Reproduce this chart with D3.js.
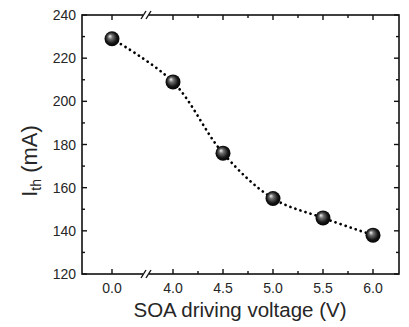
<!DOCTYPE html>
<html>
<head>
<meta charset="utf-8">
<script src="https://cdn.jsdelivr.net/npm/d3@7"></script>
<style>
body { margin: 0; background: #fff; }
text { font-family: "Liberation Sans", Arial, sans-serif; fill: #262626; }
</style>
</head>
<body>
<svg id="chart" width="409" height="327"></svg>
<script>
// data
var voltage = [0.0, 4.0, 4.5, 5.0, 5.5, 6.0];
var ith = [229, 209, 176, 155, 146, 138];
var xTicks = [0.0, 4.0, 4.5, 5.0, 5.5, 6.0];
var xMinor = [4.25, 4.75, 5.25, 5.75];
var yTicks = [120, 140, 160, 180, 200, 220, 240];
var yMinor = [130, 150, 170, 190, 210, 230];

var svg = d3.select('#chart');
var pLeft = 82, pRight = 399, pTop = 15, pBottom = 274;
var breakX = 146;

// broken x axis: piecewise linear scale with a jump at the break
var x = d3.scaleLinear()
    .domain([-0.3, 0.34, 3.73, 6.26])
    .range([pLeft, breakX, breakX, pRight]);
var y = d3.scaleLinear().domain([120, 240]).range([pBottom, pTop]);

var defs = svg.append('defs');
var grad = defs.append('radialGradient')
    .attr('id', 'ball')
    .attr('cx', '0.5').attr('cy', '0.5').attr('r', '0.55')
    .attr('fx', '0.35').attr('fy', '0.32');
grad.append('stop').attr('offset', '0%').attr('stop-color', '#f4f4f4');
grad.append('stop').attr('offset', '28%').attr('stop-color', '#707070');
grad.append('stop').attr('offset', '68%').attr('stop-color', '#151515');
grad.append('stop').attr('offset', '100%').attr('stop-color', '#000');

// frame
svg.append('rect')
    .attr('x', pLeft).attr('y', pTop)
    .attr('width', pRight - pLeft).attr('height', pBottom - pTop)
    .attr('fill', 'none').attr('stroke', '#111').attr('stroke-width', 1.6);

// ticks pointing inward
function drawTicks(g, vals, len, axis) {
    vals.forEach(function (v) {
        if (axis === 'x') {
            g.append('line').attr('x1', x(v)).attr('x2', x(v))
                .attr('y1', pBottom).attr('y2', pBottom - len);
            g.append('line').attr('x1', x(v)).attr('x2', x(v))
                .attr('y1', pTop).attr('y2', pTop + len);
        } else {
            g.append('line').attr('y1', y(v)).attr('y2', y(v))
                .attr('x1', pLeft).attr('x2', pLeft + len);
            g.append('line').attr('y1', y(v)).attr('y2', y(v))
                .attr('x1', pRight).attr('x2', pRight - len);
        }
    });
}
var tickG = svg.append('g').attr('stroke', '#111').attr('stroke-width', 1.4);
drawTicks(tickG, xTicks, 5, 'x');
drawTicks(tickG, xMinor, 3, 'x');
drawTicks(tickG, yTicks, 5, 'y');
drawTicks(tickG, yMinor, 3, 'y');

// break marks on top and bottom
[pTop, pBottom].forEach(function (yy) {
    svg.append('rect').attr('x', breakX - 3).attr('y', yy - 2)
        .attr('width', 6).attr('height', 4).attr('fill', '#fff');
    [-2.5, 2.5].forEach(function (dx) {
        svg.append('line')
            .attr('x1', breakX + dx - 2.5).attr('y1', yy + 4)
            .attr('x2', breakX + dx + 2.5).attr('y2', yy - 4)
            .attr('stroke', '#111').attr('stroke-width', 1.4);
    });
});

// tick labels
svg.append('g').selectAll('text').data(xTicks).enter().append('text')
    .attr('x', function (d) { return x(d); })
    .attr('y', pBottom + 19)
    .attr('text-anchor', 'middle')
    .attr('font-size', 14)
    .text(function (d) { return d.toFixed(1); });

svg.append('g').selectAll('text').data(yTicks).enter().append('text')
    .attr('x', pLeft - 6)
    .attr('y', function (d) { return y(d) + 5; })
    .attr('text-anchor', 'end')
    .attr('font-size', 14)
    .text(function (d) { return d; });

// axis titles
svg.append('text')
    .attr('x', 240).attr('y', 317)
    .attr('text-anchor', 'middle')
    .attr('font-size', 20.5)
    .text('SOA driving voltage (V)');

var yt = svg.append('text')
    .attr('transform', 'translate(37,161) rotate(-90)')
    .attr('text-anchor', 'middle')
    .attr('font-size', 22);
yt.append('tspan').text('I');
yt.append('tspan').attr('font-size', 14).attr('dy', 4).text('th');
yt.append('tspan').attr('dy', -4).text(' (mA)');

// dotted smooth curve
var pts = voltage.map(function (v, i) { return [x(v), y(ith[i])]; });
var line = d3.line().curve(d3.curveCatmullRom.alpha(0.5));
svg.append('path')
    .attr('d', line(pts))
    .attr('fill', 'none')
    .attr('stroke', '#000')
    .attr('stroke-width', 2.7)
    .attr('stroke-linecap', 'round')
    .attr('stroke-dasharray', '0.1 5.2');

// spheres
svg.append('g').selectAll('circle').data(pts).enter().append('circle')
    .attr('cx', function (d) { return d[0]; })
    .attr('cy', function (d) { return d[1]; })
    .attr('r', 7.5)
    .attr('fill', 'url(#ball)');
</script>
</body>
</html>
